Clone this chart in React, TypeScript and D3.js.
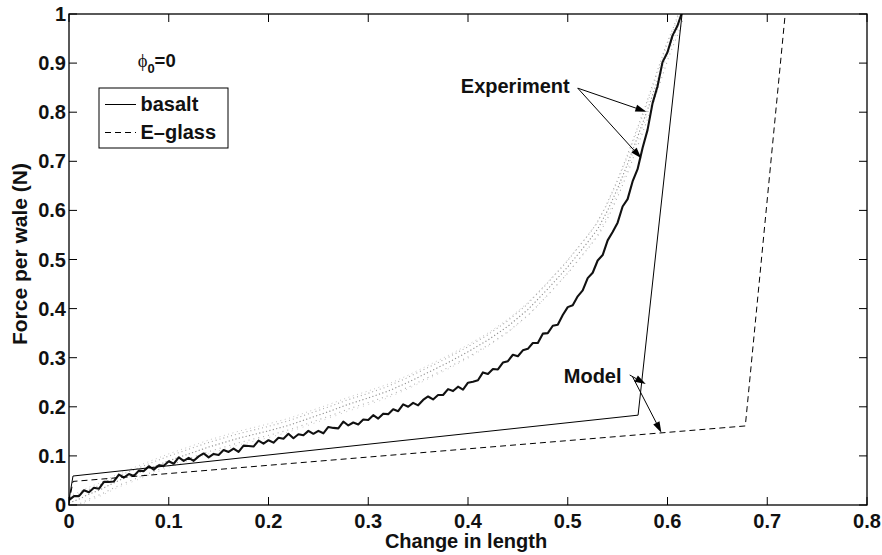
import React from "react";
import * as d3 from "d3";

const W = 882;
const H = 555;

// Model curves (piecewise linear)
const modelBasaltX = [0.0, 0.004, 0.5705, 0.6146];
const modelBasaltY = [0.01, 0.059, 0.183, 1.0];
const modelGlassX = [0.0, 0.004, 0.678, 0.718];
const modelGlassY = [0.005, 0.048, 0.161, 1.0];

// Experiment, basalt (noisy black trace)
const expBasaltX = [
  0.0, 0.005, 0.01, 0.015, 0.02, 0.025, 0.03, 0.035, 0.04, 0.045, 0.05, 0.055, 0.06, 0.065, 0.07, 0.075, 0.08, 0.085, 0.09, 0.095,
  0.1, 0.105, 0.11, 0.115, 0.12, 0.125, 0.13, 0.135, 0.14, 0.145, 0.15, 0.155, 0.16, 0.165, 0.17, 0.175, 0.18, 0.185, 0.19, 0.195,
  0.2, 0.205, 0.21, 0.215, 0.22, 0.225, 0.23, 0.235, 0.24, 0.245, 0.25, 0.255, 0.26, 0.265, 0.27, 0.275, 0.28, 0.285, 0.29, 0.295,
  0.3, 0.305, 0.31, 0.315, 0.32, 0.325, 0.33, 0.335, 0.34, 0.345, 0.35, 0.355, 0.36, 0.365, 0.37, 0.375, 0.38, 0.385, 0.39, 0.395,
  0.4, 0.405, 0.41, 0.415, 0.42, 0.425, 0.43, 0.435, 0.44, 0.445, 0.45, 0.455, 0.46, 0.465, 0.47, 0.475, 0.48, 0.485, 0.49, 0.495,
  0.5, 0.505, 0.51, 0.515, 0.52, 0.525, 0.53, 0.535, 0.54, 0.545, 0.55, 0.555, 0.56, 0.565, 0.57, 0.575, 0.58, 0.585, 0.59, 0.595,
  0.6, 0.605, 0.61, 0.614,
];
const expBasaltY = [
  0.01, 0.018, 0.018, 0.03, 0.026, 0.035, 0.033, 0.047, 0.047, 0.048, 0.062, 0.056, 0.063, 0.059, 0.07, 0.069, 0.079, 0.072, 0.081, 0.08,
  0.089, 0.084, 0.097, 0.09, 0.096, 0.09, 0.099, 0.105, 0.097, 0.104, 0.102, 0.112, 0.108, 0.115, 0.108, 0.121, 0.12, 0.119, 0.131, 0.125,
  0.132, 0.127, 0.137, 0.135, 0.145, 0.136, 0.144, 0.142, 0.151, 0.145, 0.151, 0.146, 0.159, 0.157, 0.156, 0.17, 0.162, 0.168, 0.164, 0.174,
  0.173, 0.183, 0.176, 0.186, 0.185, 0.195, 0.191, 0.205, 0.2, 0.208, 0.203, 0.214, 0.221, 0.215, 0.224, 0.224, 0.236, 0.232, 0.241, 0.235,
  0.249, 0.251, 0.254, 0.27, 0.267, 0.277, 0.276, 0.29, 0.293, 0.306, 0.303, 0.315, 0.318, 0.33, 0.33, 0.349, 0.35, 0.365, 0.367, 0.387,
  0.403, 0.407, 0.425, 0.437, 0.462, 0.473, 0.498, 0.509, 0.539, 0.556, 0.575, 0.608, 0.623, 0.659, 0.684, 0.727, 0.764, 0.818, 0.853, 0.902,
  0.922, 0.956, 0.976, 1.0,
];

// Experiment, E-glass (grey dotted band centre)
const expGlassX = [
  0.0, 0.01, 0.02, 0.03, 0.04, 0.05, 0.06, 0.07, 0.08, 0.09, 0.1, 0.11, 0.12, 0.13, 0.14, 0.15, 0.16, 0.17, 0.18, 0.19,
  0.2, 0.22, 0.24, 0.26, 0.28, 0.3, 0.32, 0.34, 0.36, 0.38, 0.4, 0.42, 0.44, 0.46, 0.48, 0.5, 0.52, 0.53, 0.54, 0.55,
  0.56, 0.57, 0.58, 0.59, 0.6, 0.61, 0.614,
];
const expGlassY = [
  0.004, 0.012, 0.022, 0.03, 0.04, 0.05, 0.058, 0.066, 0.074, 0.082, 0.09, 0.097, 0.104, 0.111, 0.118, 0.124, 0.13, 0.136, 0.141, 0.146,
  0.151, 0.162, 0.176, 0.19, 0.205, 0.218, 0.232, 0.25, 0.27, 0.29, 0.312, 0.336, 0.364, 0.398, 0.44, 0.485, 0.535, 0.562, 0.6, 0.645,
  0.695, 0.75, 0.805, 0.865, 0.925, 0.975, 1.0,
];

const xTicks = [0, 0.1, 0.2, 0.3, 0.4, 0.5, 0.6, 0.7, 0.8];
const xTickLabels = ["0", "0.1", "0.2", "0.3", "0.4", "0.5", "0.6", "0.7", "0.8"];
const yTicks = [0, 0.1, 0.2, 0.3, 0.4, 0.5, 0.6, 0.7, 0.8, 0.9, 1];
const yTickLabels = ["0", "0.1", "0.2", "0.3", "0.4", "0.5", "0.6", "0.7", "0.8", "0.9", "1"];

const legendLabels = ["basalt", "E\u2013glass"];

// annotations in data coordinates
const expArrowTail = [0.51, 0.849];
const expArrowHeads = [
  [0.5788, 0.801],
  [0.5738, 0.706],
];
const modelArrows = [
  [0.5621, 0.2648, 0.5782, 0.2464],
  [0.5651, 0.2607, 0.5939, 0.1472],
];

const FONT = "'Liberation Sans', Arial, Helvetica, sans-serif";

export default function App() {
  const left = 69;
  const right = 867;
  const top = 14;
  const bottom = 505;
  const x = d3.scaleLinear().domain([0, 0.8]).range([left, right]);
  const y = d3.scaleLinear().domain([0, 1]).range([bottom, top]);

  const line = d3
    .line<[number, number]>()
    .x((d) => x(d[0]))
    .y((d) => y(d[1]));

  const zip = (xs: number[], ys: number[]) => xs.map((v, i) => [v, ys[i]] as [number, number]);

  const tickLen = 8;
  const fs = 20;

  const arrow = (x1: number, y1: number, x2: number, y2: number, key: string) => {
    const px1 = x(x1), py1 = y(y1), px2 = x(x2), py2 = y(y2);
    const ang = Math.atan2(py2 - py1, px2 - px1);
    const L = 11, Wd = 3.5;
    const bx = px2 - L * Math.cos(ang), by = py2 - L * Math.sin(ang);
    const nx = -Math.sin(ang), ny = Math.cos(ang);
    const pts = `${px2},${py2} ${bx + nx * Wd},${by + ny * Wd} ${bx - nx * Wd},${by - ny * Wd}`;
    return (
      <g key={key}>
        <line x1={px1} y1={py1} x2={bx} y2={by} stroke="#000" strokeWidth={1} />
        <polygon points={pts} fill="#000" />
      </g>
    );
  };

  const glassPath = line(zip(expGlassX, expGlassY)) || "";

  return (
    <svg
      width={W}
      height={H}
      style={{ position: "absolute", left: 0, top: 0, background: "#fff" }}
      fontFamily={FONT}
    >
      <rect x={0} y={0} width={W} height={H} fill="#fff" />
      <defs>
        <clipPath id="plotclip">
          <rect x={left} y={top} width={right - left} height={bottom - top} />
        </clipPath>
      </defs>

      <g clipPath="url(#plotclip)">
        {/* grey E-glass experiment: scattered dotted band */}
        <path d={glassPath} fill="none" stroke="#a8a8a8" strokeWidth={1.1} strokeDasharray="1 3" transform="translate(-2,-4)" />
        <path d={glassPath} fill="none" stroke="#909090" strokeWidth={1.1} strokeDasharray="1.2 2.3" />
        <path d={glassPath} fill="none" stroke="#acacac" strokeWidth={1.1} strokeDasharray="1 4" transform="translate(2,4)" />
        <path d={glassPath} fill="none" stroke="#b8b8b8" strokeWidth={1} strokeDasharray="0.8 3.7" transform="translate(0,-7)" />
        <path d={glassPath} fill="none" stroke="#c0c0c0" strokeWidth={1} strokeDasharray="0.8 5" transform="translate(-1,7)" />
        {/* black basalt experiment */}
        <path
          d={line(zip(expBasaltX, expBasaltY)) || ""}
          fill="none"
          stroke="#111"
          strokeWidth={2.1}
          strokeLinejoin="round"
        />
        {/* model curves */}
        <path d={line(zip(modelBasaltX, modelBasaltY)) || ""} fill="none" stroke="#000" strokeWidth={1} />
        <path
          d={line(zip(modelGlassX, modelGlassY)) || ""}
          fill="none"
          stroke="#000"
          strokeWidth={1}
          strokeDasharray="6 4"
        />
      </g>

      {/* axes box */}
      <rect x={left} y={top} width={right - left} height={bottom - top} fill="none" stroke="#000" strokeWidth={1.3} />

      {xTicks.map((t, i) => (
        <g key={"xt" + i}>
          <line x1={x(t)} x2={x(t)} y1={bottom} y2={bottom - tickLen} stroke="#000" strokeWidth={1} />
          <line x1={x(t)} x2={x(t)} y1={top} y2={top + tickLen} stroke="#000" strokeWidth={1} />
          <text x={x(t)} y={528} textAnchor="middle" fontSize={fs} fontWeight="bold" fill="#111">
            {xTickLabels[i]}
          </text>
        </g>
      ))}
      {yTicks.map((t, i) => (
        <g key={"yt" + i}>
          <line x1={left} x2={left + tickLen} y1={y(t)} y2={y(t)} stroke="#000" strokeWidth={1} />
          <line x1={right} x2={right - tickLen} y1={y(t)} y2={y(t)} stroke="#000" strokeWidth={1} />
          <text x={66} y={y(t) + 7} textAnchor="end" fontSize={fs} fontWeight="bold" fill="#111">
            {yTickLabels[i]}
          </text>
        </g>
      ))}

      {/* axis titles */}
      <text x={466} y={548} textAnchor="middle" fontSize={fs} fontWeight="bold" fill="#111">
        Change in length
      </text>
      <text
        transform={`translate(27, 254) rotate(-90)`}
        textAnchor="middle"
        fontSize={21}
        fontWeight="bold"
        fill="#111"
      >
        Force per wale (N)
      </text>

      {/* phi label */}
      <text x={x(0.0688)} y={y(0.892)} fontSize={18.5} fontWeight="bold" fill="#111">
        <tspan fontFamily="'Liberation Serif', serif" fontWeight="normal">{"\u03D5"}</tspan>
        <tspan dy={6} fontSize={13}>0</tspan>
        <tspan dy={-6}>=0</tspan>
      </text>

      {/* legend */}
      <rect x={99} y={88} width={129} height={60} fill="#fff" stroke="#000" strokeWidth={1} />
      <line x1={105} x2={136} y1={104.5} y2={104.5} stroke="#000" strokeWidth={1} />
      <text x={140.5} y={111} fontSize={fs} fontWeight="bold" fill="#111">
        {legendLabels[0]}
      </text>
      <line x1={105} x2={136} y1={132.5} y2={132.5} stroke="#000" strokeWidth={1} strokeDasharray="6 4" />
      <text x={140.5} y={139} fontSize={fs} fontWeight="bold" fill="#111">
        {legendLabels[1]}
      </text>

      {/* annotations */}
      <text x={x(0.3928)} y={y(0.839)} fontSize={fs} fontWeight="bold" fill="#111">
        Experiment
      </text>
      {expArrowHeads.map((h, i) => arrow(expArrowTail[0], expArrowTail[1], h[0], h[1], "ea" + i))}
      <text x={x(0.496)} y={y(0.2485)} fontSize={fs} fontWeight="bold" fill="#111">
        Model
      </text>
      {modelArrows.map((a, i) => arrow(a[0], a[1], a[2], a[3], "ma" + i))}
    </svg>
  );
}
